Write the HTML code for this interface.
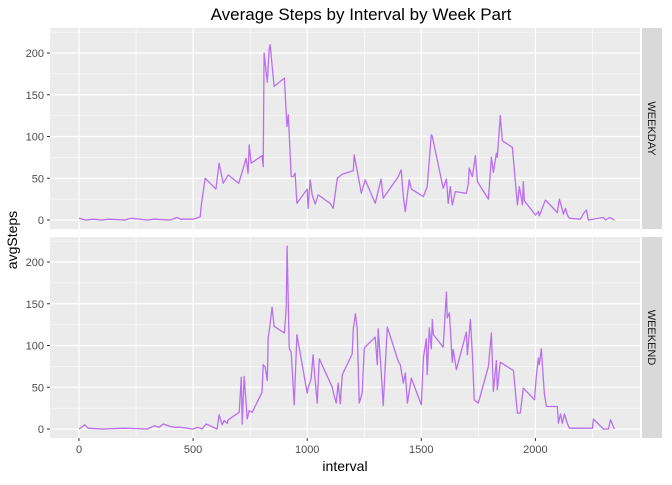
<!DOCTYPE html>
<html><head><meta charset="utf-8"><style>
body{margin:0;background:#fff;font-family:"Liberation Sans",Arial,sans-serif}
</style></head><body>
<svg id="c" width="672" height="480" xmlns="http://www.w3.org/2000/svg">
<text x="361" y="20" text-anchor="middle" font-size="17" fill="#000">Average Steps by Interval by Week Part</text>
<text transform="translate(17,240) rotate(-90)" text-anchor="middle" font-size="14" fill="#000">avgSteps</text>
<text x="345" y="471" text-anchor="middle" font-size="14" fill="#000">interval</text>
</svg>
<script>
const xTicks=[0,500,1000,1500,2000];
const yTicks=[0,50,100,150,200];
const panels=["WEEKDAY","WEEKEND"];
const weekdayX=[0,30,60,100,130,200,230,300,330,400,430,445,500,531,537,553,600,614,632,654,700,720,732,741,746,754,802,807,811,825,833,838,846,855,900,911,917,930,939,947,955,1000,1004,1013,1022,1035,1048,1100,1114,1132,1154,1202,1206,1224,1237,1254,1298,1324,1333,1399,1412,1421,1430,1447,1456,1509,1526,1544,1548,1596,1610,1618,1627,1636,1649,1697,1706,1710,1724,1737,1746,1794,1807,1816,1829,1833,1846,1855,1899,1921,1930,1943,1947,1952,2000,2013,2017,2044,2096,2105,2123,2132,2140,2149,2197,2211,2224,2232,2298,2307,2325,2346];
const weekdayY=[2,0,1,0,1,0,2,0,1,0,3,1,1,4,20,50,37,68,44,54,44,62,74,56,90,68,77,64,200,165,204,210,185,160,170,112,126,52,52,56,20,37,14,48,30,19,30,20,14,50,55,59,78,52,32,48,20,49,26,52,60,28,10,48,37,28,40,102,100,38,49,20,40,18,34,32,43,62,52,77,46,25,75,57,80,75,125,95,87,18,40,18,46,23,6,10,5,24,9,25,7,14,6,2,1,8,12,0,3,0,3,0];
const weekendX=[0,15,25,40,100,200,300,330,350,370,400,420,443,500,522,539,557,605,614,627,636,649,654,702,711,715,724,737,746,759,802,807,816,825,829,833,846,855,900,908,912,921,930,943,955,1000,1004,1017,1026,1031,1044,1053,1110,1118,1127,1136,1145,1154,1197,1202,1211,1219,1228,1241,1250,1298,1307,1311,1324,1333,1351,1399,1408,1421,1430,1439,1456,1500,1509,1522,1526,1535,1544,1548,1553,1596,1610,1614,1623,1636,1640,1654,1697,1702,1715,1724,1732,1750,1794,1807,1816,1829,1833,1846,1904,1913,1921,1934,1947,1996,2004,2013,2017,2026,2035,2039,2048,2096,2101,2110,2118,2127,2140,2149,2206,2250,2254,2298,2320,2329,2346];
const weekendY=[0,3,5,1,0,1,0,4,2,6,3,2,2,0,2,0,6,0,17,5,10,7,11,20,62,6,63,12,22,20,44,77,74,58,110,116,146,123,115,145,219,97,92,29,113,43,49,60,89,70,31,84,50,40,31,55,30,65,90,120,138,120,31,43,97,110,77,120,71,28,122,81,77,55,67,31,61,29,85,108,65,121,96,131,113,98,164,133,139,80,95,71,116,89,131,89,35,31,75,115,45,82,47,80,70,43,19,19,49,35,63,85,77,96,59,43,27,27,7,18,7,18,7,1,1,1,12,0,0,11,0];
const series=[[weekdayX,weekdayY],[weekendX,weekendY]];
const svg=document.getElementById('c');const NS='http://www.w3.org/2000/svg';
const L=50,R=640,tops=[28,237],H=201;
const xs=v=>79+v*0.2282;
function ys(p,v){return tops[p]+192-v*0.835;}
function mk(t,a,parent){const e=document.createElementNS(NS,t);for(const k in a)e.setAttribute(k,a[k]);(parent||svg).appendChild(e);return e;}
panels.forEach((name,p)=>{
  const g=mk('g',{});
  
  
  const bg=mk('rect',{x:L,y:tops[p],width:R-L,height:H,fill:'#EBEBEB'},g);
  
  
  for(let v=-250;v<=2500;v+=500){const x=xs(v);if(x>L&&x<R)mk('line',{x1:x,x2:x,y1:tops[p],y2:tops[p]+H,stroke:'#fff','stroke-width':0.6},g);}
  for(let v=25;v<=225;v+=50){const y=ys(p,v);if(y>tops[p])mk('line',{x1:L,x2:R,y1:y,y2:y,stroke:'#fff','stroke-width':0.6},g);}
  xTicks.forEach(v=>{const x=xs(v);mk('line',{x1:x,x2:x,y1:tops[p],y2:tops[p]+H,stroke:'#fff','stroke-width':1.2},g);});
  yTicks.forEach(v=>{const y=ys(p,v);mk('line',{x1:L,x2:R,y1:y,y2:y,stroke:'#fff','stroke-width':1.2},g);
    mk('line',{x1:L-3,x2:L,y1:y,y2:y,stroke:'#333','stroke-width':1},g);
    const t=mk('text',{x:L-6,y:y+4,'text-anchor':'end','font-size':11,fill:'#4D4D4D'},g);t.textContent=v;
    
    });
  const [X,Y]=series[p];
  const pts=X.map((v,i)=>xs(v).toFixed(1)+','+ys(p,Y[i]).toFixed(1)).join(' ');
  const ln=mk('polyline',{points:pts,fill:'none',stroke:'#B96FEF','stroke-width':1.3,'stroke-linejoin':'round'},g);
  
  
  const st=mk('rect',{x:642,y:tops[p],width:20,height:H,fill:'#D9D9D9'},g);
  
  
  const cy=tops[p]+H/2;
  const tt=mk('text',{transform:`translate(648,${cy}) rotate(90)`,'text-anchor':'middle','font-size':11,fill:'#1A1A1A'},g);tt.textContent=name;
  
  
});
xTicks.forEach(v=>{const x=xs(v);mk('line',{x1:x,x2:x,y1:438,y2:441,stroke:'#333','stroke-width':1});
  const t=mk('text',{x:x,y:453,'text-anchor':'middle','font-size':11,fill:'#4D4D4D'});t.textContent=v;
  
  });
</script>
</body></html>
